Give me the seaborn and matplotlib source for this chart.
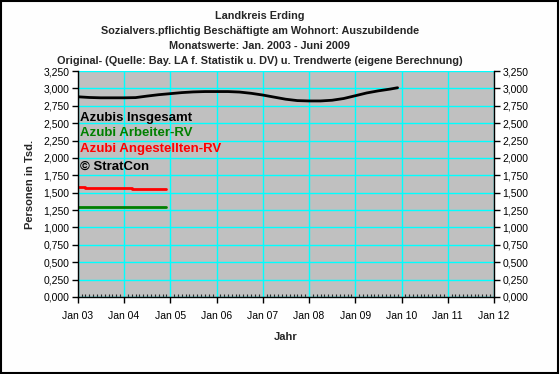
import pandas as pd
import seaborn as sns
import matplotlib.pyplot as plt
import matplotlib.dates as mdates
from matplotlib.ticker import FuncFormatter, MultipleLocator
from matplotlib.patches import Rectangle

# Trendwerte Azubis insgesamt (Tsd.), quarterly points Jan 03 .. Dec 09
total_dates = ['2003-01', '2003-04', '2003-07', '2003-10', '2004-01', '2004-04', '2004-07',
               '2004-10', '2005-01', '2005-04', '2005-07', '2005-10', '2006-01', '2006-04',
               '2006-07', '2006-10', '2007-01', '2007-04', '2007-07', '2007-10', '2008-01',
               '2008-04', '2008-07', '2008-10', '2009-01', '2009-04', '2009-07', '2009-10',
               '2009-12']
total_vals = [2.880, 2.870, 2.865, 2.865, 2.865, 2.868, 2.890, 2.910, 2.925, 2.940,
              2.950, 2.955, 2.955, 2.955, 2.948, 2.930, 2.905, 2.875, 2.845, 2.825,
              2.820, 2.820, 2.830, 2.855, 2.895, 2.935, 2.965, 2.990, 3.010]

# Arbeiter-RV / Angestellten-RV (Tsd.), Jan 03 .. Dec 04
rv_dates = ['2003-01', '2003-03', '2004-03', '2004-12']
arbeiter_vals = [1.300, 1.300, 1.300, 1.300]
angest_vals = [1.587, 1.568, 1.554, 1.554]

df_total = pd.DataFrame({'datum': pd.to_datetime(total_dates), 'wert': total_vals})
df_rv = pd.DataFrame({'datum': pd.to_datetime(rv_dates), 'arbeiter': arbeiter_vals,
                      'angest': angest_vals})

sns.set_theme(style="ticks")
plt.rcParams['font.family'] = ['Liberation Sans', 'DejaVu Sans']

fig = plt.figure(figsize=(5.6, 3.74), dpi=100)
fig.patch.set_facecolor('#fefefe')
ax = fig.add_axes([0.139, 0.206, 0.743, 0.604])
ax.set_facecolor('#c0c0c0')

sns.lineplot(data=df_total, x='datum', y='wert', color='black', lw=2, ax=ax)
sns.lineplot(data=df_rv, x='datum', y='angest', color='#ff0000', lw=2, ax=ax,
             drawstyle='steps-post')
sns.lineplot(data=df_rv, x='datum', y='arbeiter', color='#008000', lw=2, ax=ax)

ax.set_xlim(pd.Timestamp('2003-01-01'), pd.Timestamp('2012-01-01'))
ax.set_ylim(0, 3.25)
ax.yaxis.set_major_locator(MultipleLocator(0.25))
ax.yaxis.set_major_formatter(FuncFormatter(lambda v, p: f"{v:.3f}".replace('.', ',')))
ax.xaxis.set_major_locator(mdates.YearLocator())
ax.xaxis.set_major_formatter(mdates.DateFormatter('Jan %y'))
ax.xaxis.set_minor_locator(mdates.MonthLocator())

ax.grid(True, which='major', color='#00ffff', lw=1)
ax.set_axisbelow(True)
for s in ['left', 'right', 'bottom']:
    ax.spines[s].set_color('black')
    ax.spines[s].set_linewidth(1)
ax.spines['top'].set_visible(False)

ax.tick_params(axis='y', which='major', left=True, right=True, labelright=True,
               direction='out', length=4, width=1, labelsize=7.5, pad=2, colors='black')
ax.tick_params(axis='x', which='major', direction='out', length=4, width=1,
               labelsize=7.5, pad=6, colors='black')
ax.tick_params(axis='x', which='minor', direction='in', length=2, width=0.8)

ax.set_xlabel('Jahr', fontsize=8, fontweight='bold', labelpad=8)
ax.set_ylabel('Personen in Tsd.', fontsize=8, fontweight='bold', labelpad=6)

# legend as text labels inside the plot
legend_items = [('Azubis Insgesamt', 'black', 0.790),
                ('Azubi Arbeiter-RV', '#008000', 0.724),
                ('Azubi Angestellten-RV', '#ff0000', 0.657),
                ('© StratCon', 'black', 0.578)]
for txt, col, y in legend_items:
    ax.text(0.006, y, txt, color=col, fontsize=9.5, fontweight='bold', va='center',
            transform=ax.transAxes)

titles = ['Landkreis Erding',
          'Sozialvers.pflichtig Beschäftigte am Wohnort: Auszubildende',
          'Monatswerte: Jan. 2003 - Juni 2009',
          'Original- (Quelle: Bay. LA f. Statistik u. DV) u. Trendwerte (eigene Berechnung)']
for t, y in zip(titles, [0.958, 0.916, 0.878, 0.838]):
    fig.text(0.464, y, t, ha='center', va='center', fontsize=7.8, fontweight='bold')

fig.add_artist(Rectangle((0.002, 0.003), 0.995, 0.994, transform=fig.transFigure,
                         fill=False, edgecolor='black', lw=1.5))

fig.savefig('out.png', dpi=100)
